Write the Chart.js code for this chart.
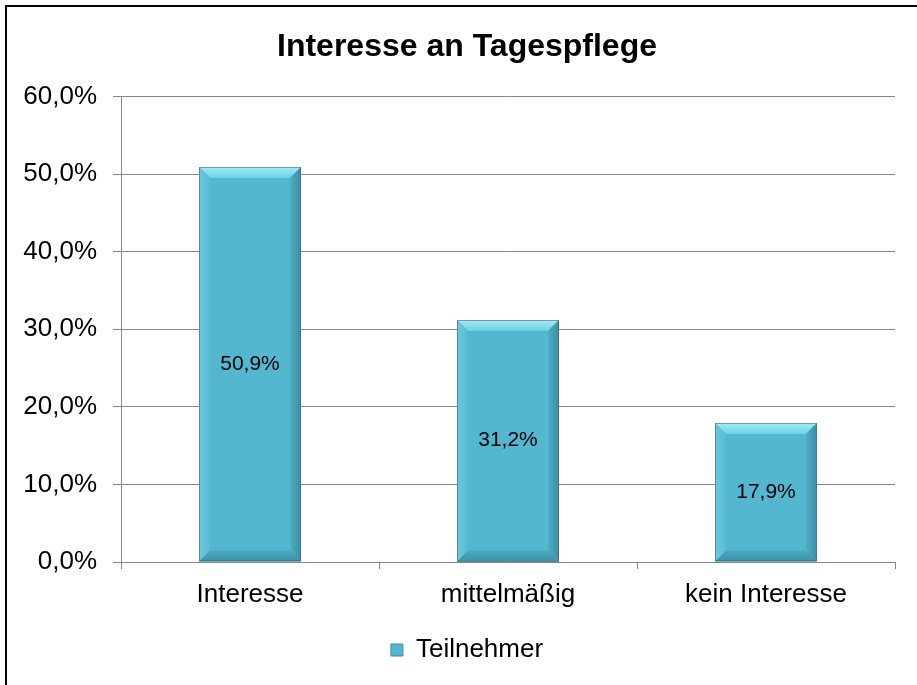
<!DOCTYPE html>
<html>
<head>
<meta charset="utf-8">
<script src="https://cdn.jsdelivr.net/npm/chart.js@4.4.1/dist/chart.umd.min.js"></script>
<style>
  html, body { margin: 0; padding: 0; background: #fff; }
  #wrap { width: 917px; height: 685px; position: relative; }
</style>
</head>
<body>
<div id="wrap"><canvas id="chart" width="917" height="685"></canvas></div>
<script>
const kategorien = ['Interesse', 'mittelmäßig', 'kein Interesse'];
const teilnehmer = [50.9, 31.2, 17.9];
const serienName = 'Teilnehmer';
const titel = 'Interesse an Tagespflege';

const FONT = '"Liberation Sans", Arial, sans-serif';
const fmt = v => v.toFixed(1).replace('.', ',') + '%';

// rahmen + weisser hintergrund
const rahmen = {
    id: 'rahmen',
    beforeDraw(chart) {
        const ctx = chart.ctx;
        ctx.save();
        ctx.fillStyle = '#fff';
        ctx.fillRect(0, 0, chart.width, chart.height);
        ctx.strokeStyle = '#000';
        ctx.lineWidth = 2;
        ctx.strokeRect(6, 6, chart.width + 20, chart.height + 20);
        ctx.restore();
    }
};

// bevel effekt und werte in den balken
const bevel = {
    id: 'bevel',
    afterDatasetsDraw(chart) {
        const ctx = chart.ctx;
        const meta = chart.getDatasetMeta(0);
        meta.data.forEach((bar, i) => {
            const l = bar.x - bar.width / 2, r = bar.x + bar.width / 2;
            const t = bar.y, b = bar.base;
            const d = 11;
            ctx.save();
            // oben hell
            let g = ctx.createLinearGradient(0, t, 0, t + d);
            g.addColorStop(0, '#a0ecf8');
            g.addColorStop(1, '#6fcfe4');
            ctx.fillStyle = g;
            ctx.beginPath();
            ctx.moveTo(l, t); ctx.lineTo(r, t); ctx.lineTo(r - d, t + d); ctx.lineTo(l + d, t + d);
            ctx.closePath(); ctx.fill();
            // links
            g = ctx.createLinearGradient(l, 0, l + d, 0);
            g.addColorStop(0, '#6cc8dc');
            g.addColorStop(1, '#58bcd4');
            ctx.fillStyle = g;
            ctx.beginPath();
            ctx.moveTo(l, t); ctx.lineTo(l + d, t + d); ctx.lineTo(l + d, b - d); ctx.lineTo(l, b);
            ctx.closePath(); ctx.fill();
            // rechts dunkel
            g = ctx.createLinearGradient(r - d, 0, r, 0);
            g.addColorStop(0, '#4eaec6');
            g.addColorStop(1, '#3a8ea4');
            ctx.fillStyle = g;
            ctx.beginPath();
            ctx.moveTo(r, t); ctx.lineTo(r, b); ctx.lineTo(r - d, b - d); ctx.lineTo(r - d, t + d);
            ctx.closePath(); ctx.fill();
            // unten dunkel
            g = ctx.createLinearGradient(0, b - d, 0, b);
            g.addColorStop(0, '#4aa9c1');
            g.addColorStop(1, '#3c91a8');
            ctx.fillStyle = g;
            ctx.beginPath();
            ctx.moveTo(l, b); ctx.lineTo(r, b); ctx.lineTo(r - d, b - d); ctx.lineTo(l + d, b - d);
            ctx.closePath(); ctx.fill();
            // kante
            ctx.strokeStyle = 'rgba(80,90,95,0.55)';
            ctx.lineWidth = 1;
            ctx.strokeRect(Math.round(l) + 0.5, Math.round(t) + 0.5, Math.round(r - l) - 1, Math.round(b - t) - 1);
            // wert
            ctx.fillStyle = '#000';
            ctx.font = '21px ' + FONT;
            ctx.textAlign = 'center';
            ctx.textBaseline = 'middle';
            ctx.fillText(fmt(teilnehmer[i]), bar.x, (t + b) / 2);
            ctx.restore();
        });
    }
};

new Chart(document.getElementById('chart'), {
    type: 'bar',
    data: {
        labels: kategorien,
        datasets: [{
            label: serienName,
            data: teilnehmer,
            backgroundColor: '#53b7d0',
            borderWidth: 0,
            categoryPercentage: 1,
            barPercentage: 0.395
        }]
    },
    options: {
        responsive: false,
        animation: false,
        devicePixelRatio: 1,
        // rahmen ist breiter als das bild, deshalb negativ rechts
        layout: { padding: { left: 0, right: -17, top: 0, bottom: 12 } },
        font: { family: FONT },
        scales: {
            x: {
                grid: { display: true, drawOnChartArea: false, drawTicks: true, tickLength: 7, color: '#868686', offset: true },
                border: { display: true, color: '#868686', width: 1 },
                ticks: { color: '#000', padding: 10, font: { size: 26, family: FONT } },
                afterFit(s) { s.height = 65; }
            },
            y: {
                min: 0, max: 60,
                ticks: { stepSize: 10, color: '#000', padding: 16, font: { size: 26, family: FONT }, callback: v => fmt(v) },
                grid: { color: '#868686', tickLength: 8 },
                border: { display: true, color: '#868686', width: 1 },
                afterFit(s) { s.width = 121; }
            },
            // leerer platz rechts
            rechts: {
                type: 'linear',
                position: 'right',
                display: true,
                grid: { display: false },
                border: { display: false },
                ticks: { display: false },
                afterFit(s) { s.width = 39; }
            }
        },
        plugins: {
            title: {
                display: true,
                text: titel,
                color: '#000',
                font: { size: 32, weight: 'bold', family: FONT },
                padding: { top: 28, bottom: 30 }
            },
            legend: {
                position: 'bottom',
                labels: {
                    color: '#000',
                    boxWidth: 12,
                    boxHeight: 12,
                    font: { size: 26, family: FONT },
                    padding: 10,
                    generateLabels: () => [{
                        text: serienName,
                        fillStyle: '#53b7d0',
                        strokeStyle: '#3a8ea4',
                        lineWidth: 1,
                        fontColor: '#000',
                        datasetIndex: 0
                    }]
                }
            },
            tooltip: { enabled: false }
        }
    },
    plugins: [rahmen, bevel]
});
</script>
</body>
</html>
